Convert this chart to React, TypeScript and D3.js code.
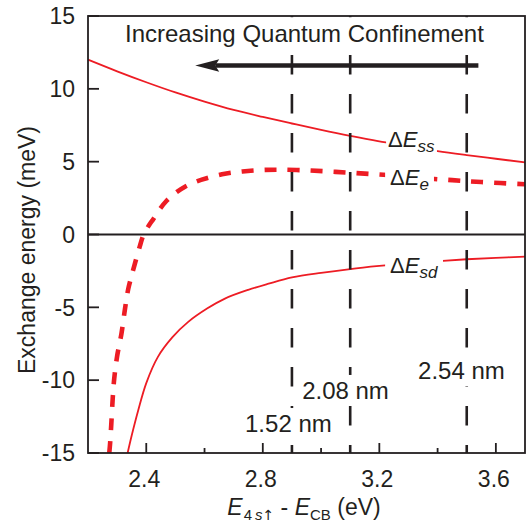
import React, { useLayoutEffect, useRef, useState } from "react";
import * as d3 from "d3";

// Exchange energies versus the 4s↑ level offset from the conduction band
const ssEnergy = [2.2, 2.3, 2.4, 2.5, 2.6, 2.7, 2.8, 2.9, 3.0, 3.1, 3.2, 3.3, 3.4, 3.5, 3.6, 3.7];
const ssValues = [12.0, 11.2, 10.45, 9.75, 9.12, 8.55, 8.07, 7.62, 7.18, 6.77, 6.4, 6.04, 5.72, 5.45, 5.2, 4.95];

const eEnergy = [
  2.273, 2.276, 2.28, 2.285, 2.29, 2.3, 2.315, 2.327, 2.338, 2.35, 2.361, 2.378, 2.39, 2.41, 2.424,
  2.445, 2.469, 2.5, 2.533, 2.57, 2.607, 2.67, 2.73, 2.79, 2.85, 2.95, 3.05, 3.15, 3.25, 3.35, 3.45,
  3.55, 3.7,
];
const eValues = [
  -15, -14.3, -13.0, -11.2, -9.9, -8.35, -6.78, -5.1, -3.75, -2.8, -2.0, -0.8, -0.05, 0.65, 1.05,
  1.7, 2.3, 2.85, 3.28, 3.62, 3.86, 4.17, 4.33, 4.42, 4.45, 4.4, 4.3, 4.18, 4.05, 3.87, 3.73,
  3.6, 3.45,
];

const sdEnergy = [
  2.336, 2.35, 2.372, 2.4, 2.44, 2.49, 2.544, 2.61, 2.67, 2.75, 2.82, 2.9, 3.0, 3.1, 3.2, 3.3, 3.4,
  3.5, 3.6, 3.7,
];
const sdValues = [
  -15, -13.8, -12.1, -10.2, -8.4, -7.05, -6.0, -5.07, -4.4, -3.8, -3.38, -2.95, -2.63, -2.37,
  -2.16, -1.98, -1.83, -1.7, -1.6, -1.52,
];

// Nanocrystal diameters marked by vertical guides
const sizeEnergy = [2.9, 3.1, 3.5];
const sizeLabels = ["1.52 nm", "2.08 nm", "2.54 nm"];

const xMajorTicks = [2.4, 2.8, 3.2, 3.6];
const xMinorTicks = [2.6, 3.0, 3.4];
const yTicks = [-15, -10, -5, 0, 5, 10, 15];

const W = 527;
const H = 528;
const M = { left: 88, right: 2, top: 16, bottom: 75 };
const INK = "#231f20";
const RED = "#ed1c24";
const FONT = "'Liberation Sans', Arial, Helvetica, sans-serif";

const x = d3.scaleLinear().domain([2.2, 3.7]).range([M.left, W - M.right]);
const y = d3.scaleLinear().domain([-15, 15]).range([H - M.bottom, M.top]);

const line = d3
  .line<[number, number]>()
  .x((d) => x(d[0]))
  .y((d) => y(d[1]))
  .curve(d3.curveCatmullRom.alpha(0.5));

const zip = (a: number[], b: number[]) => a.map((v, i) => [v, b[i]] as [number, number]);

// Text drawn over a white box sized to its own bounding box
function BoxedText({
  padX = 2,
  padY = 2,
  children,
  ...props
}: { padX?: number; padY?: number; children: React.ReactNode } & React.SVGProps<SVGTextElement>) {
  const ref = useRef<SVGTextElement>(null);
  const [box, setBox] = useState<DOMRect | null>(null);
  useLayoutEffect(() => {
    if (ref.current) setBox(ref.current.getBBox());
  }, []);
  return (
    <g>
      {box && (
        <rect
          x={box.x - padX}
          y={box.y - padY}
          width={box.width + 2 * padX}
          height={box.height + 2 * padY}
          fill="#fff"
        />
      )}
      <text ref={ref} {...props}>
        {children}
      </text>
    </g>
  );
}

export default function App() {
  const x0 = M.left;
  const x1 = W - M.right;
  const y0 = M.top;
  const y1 = H - M.bottom;
  const arrowY = y(11.6);
  const arrowTail = x(3.54);
  const arrowTip = x(2.568);

  return (
    <svg
      width={W}
      height={H}
      style={{ position: "absolute", left: 0, top: 0, background: "#fff" }}
      fontFamily={FONT}
      fill={INK}
    >
      <rect width={W} height={H} fill="#fff" />

      {/* curves */}
      <path d={line(zip(ssEnergy, ssValues)) ?? ""} fill="none" stroke={RED} strokeWidth={1.8} />
      <path d={line(zip(sdEnergy, sdValues)) ?? ""} fill="none" stroke={RED} strokeWidth={1.8} />
      <path
        d={line(zip(eEnergy, eValues)) ?? ""}
        fill="none"
        stroke={RED}
        strokeWidth={4.6}
        strokeDasharray="12 11"
      />

      {/* zero line */}
      <line x1={x0} x2={x1} y1={y(0)} y2={y(0)} stroke={INK} strokeWidth={1.8} />

      {/* size guides */}
      {sizeEnergy.map((e) => (
        <line
          key={e}
          x1={x(e)}
          x2={x(e)}
          y1={y0}
          y2={y1}
          stroke={INK}
          strokeWidth={2.6}
          strokeDasharray="19.5 19.5"
        />
      ))}

      {/* curve labels */}
      <BoxedText x={x(3.23)} y={y(6.0)} fontSize={22} padX={2} padY={0}>
        <tspan>Δ</tspan>
        <tspan fontStyle="italic">E</tspan>
        <tspan fontStyle="italic" fontSize={17} dy={5}>
          ss
        </tspan>
      </BoxedText>
      <BoxedText x={x(3.237)} y={y(3.4)} fontSize={22} padX={5} padY={0}>
        <tspan>Δ</tspan>
        <tspan fontStyle="italic">E</tspan>
        <tspan fontStyle="italic" fontSize={17} dy={5}>
          e
        </tspan>
      </BoxedText>
      <BoxedText x={x(3.237)} y={y(-2.64)} fontSize={22} padX={5} padY={0}>
        <tspan>Δ</tspan>
        <tspan fontStyle="italic">E</tspan>
        <tspan fontStyle="italic" fontSize={17} dy={5}>
          sd
        </tspan>
      </BoxedText>

      {/* size labels */}
      {[
        [2.739, -13.56],
        [2.935, -11.29],
        [3.333, -9.92],
      ].map(([ex, ey], i) => (
        <BoxedText key={i} x={x(ex)} y={y(ey)} fontSize={24} padX={2} padY={2}>
          {sizeLabels[i]}
        </BoxedText>
      ))}

      {/* title and arrow */}
      <BoxedText x={x(2.327)} y={y(13.2)} fontSize={24} padX={3} padY={3}>
        Increasing Quantum Confinement
      </BoxedText>
      <line x1={arrowTail} x2={arrowTip + 20} y1={arrowY} y2={arrowY} stroke={INK} strokeWidth={4.5} />
      <path
        d={`M${arrowTip},${arrowY} L${arrowTip + 24},${arrowY - 6.2} L${arrowTip + 20},${arrowY} L${
          arrowTip + 24
        },${arrowY + 6.2} Z`}
        fill={INK}
      />

      {/* frame */}
      <rect x={x0} y={y0} width={x1 - x0} height={y1 - y0} fill="none" stroke={INK} strokeWidth={1.8} />

      {/* y ticks */}
      {yTicks.map((t) => (
        <g key={t}>
          <line x1={x0} x2={x0 + 11} y1={y(t)} y2={y(t)} stroke={INK} strokeWidth={1.8} />
          <text x={75} y={y(t)} dy="0.36em" textAnchor="end" fontSize={23}>
            {t}
          </text>
        </g>
      ))}

      {/* x ticks */}
      {xMajorTicks.map((t) => (
        <g key={t}>
          <line x1={x(t)} x2={x(t)} y1={y1} y2={y1 - 10} stroke={INK} strokeWidth={1.8} />
          <text x={x(t) - 2} y={y1 + 34} textAnchor="middle" fontSize={23}>
            {t.toFixed(1)}
          </text>
        </g>
      ))}
      {xMinorTicks.map((t) => (
        <line key={t} x1={x(t)} x2={x(t)} y1={y1} y2={y1 - 5} stroke={INK} strokeWidth={1.8} />
      ))}

      {/* axis titles */}
      <text transform={`translate(35, 250) rotate(-90)`} textAnchor="middle" fontSize={23}>
        Exchange energy (meV)
      </text>
      <text x={304} y={515} textAnchor="middle" fontSize={23} style={{ whiteSpace: "pre" }}>
        <tspan fontStyle="italic">E</tspan>
        <tspan fontSize={15} dy={5} dx={1}>
          4
        </tspan>
        <tspan fontSize={15} fontStyle="italic" dx={3}>
          s
        </tspan>
        <tspan fontSize={14} fontFamily="'DejaVu Sans', sans-serif">
          ↑
        </tspan>
        <tspan dy={-5}>{" - "}</tspan>
        <tspan fontStyle="italic">E</tspan>
        <tspan fontSize={15} dy={5}>
          CB
        </tspan>
        <tspan dy={-5}>{" (eV)"}</tspan>
      </text>
    </svg>
  );
}
